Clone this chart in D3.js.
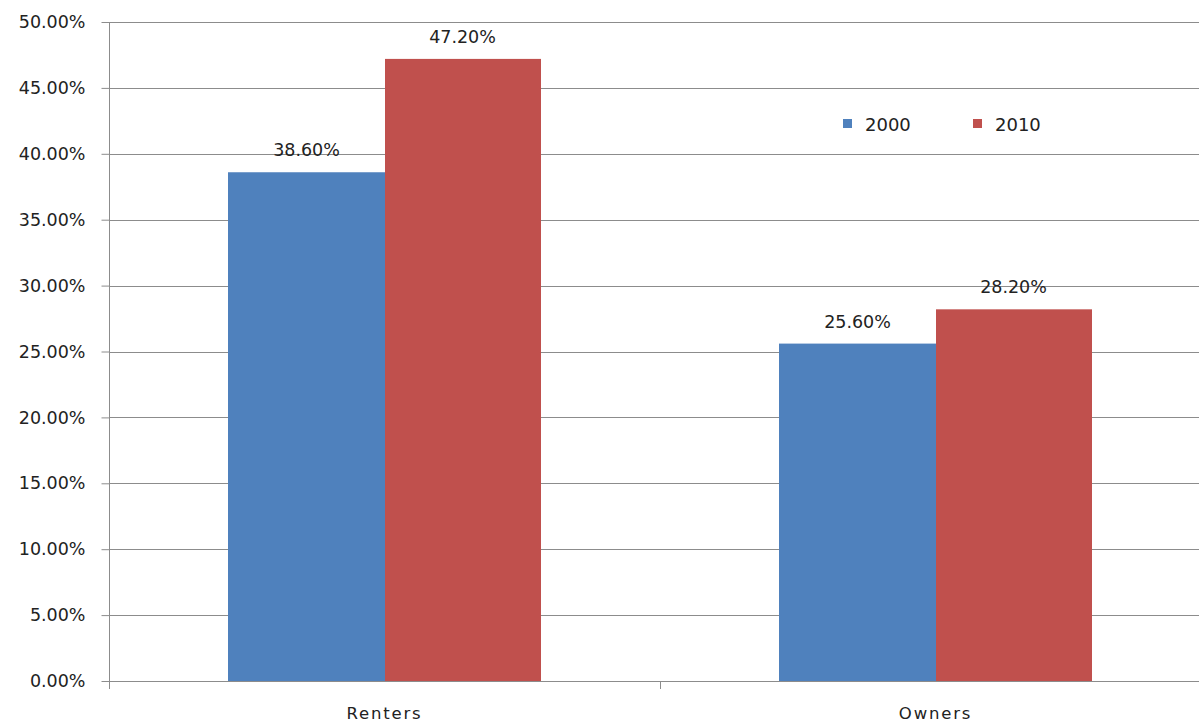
<!DOCTYPE html>
<html><head><meta charset="utf-8">
<script src="https://cdn.jsdelivr.net/npm/d3@7"></script>
<style>
html,body{margin:0;padding:0;background:#fff;}
svg{display:block;}
text{font-family:"DejaVu Sans",Verdana,sans-serif;fill:#222;}
</style></head>
<body>
<svg id="chart" width="1199" height="724"></svg>
<script>
const categories = ["Renters", "Owners"];
const seriesNames = ["2000", "2010"];
const values2000 = [38.6, 25.6];
const values2010 = [47.2, 28.2];
const yTicks = [0, 5, 10, 15, 20, 25, 30, 35, 40, 45, 50];
const colors = ["#4F81BD", "#C0504D"];

const svg = d3.select("#chart");
const plotLeft = 109, plotRight = 1211, plotTop = 22, plotBottom = 681;
const FONT = "DejaVu Sans, Verdana, sans-serif";

const x = d3.scaleBand().domain(categories).range([plotLeft, plotRight]).padding(0);
const inner = d3.scaleBand().domain(seriesNames).range([0, x.bandwidth()]).paddingInner(0).paddingOuter(0.766);
const y = d3.scaleLinear().domain([0, 50]).range([plotBottom, plotTop]);

// gridlines
svg.append("g").selectAll("line").data(yTicks.filter(d => d > 0)).join("line")
  .attr("x1", plotLeft).attr("x2", 1199)
  .attr("y1", d => Math.round(y(d)) + 0.5).attr("y2", d => Math.round(y(d)) + 0.5)
  .attr("stroke", "#8c8c8c").attr("stroke-width", 1.2);

// y axis
const yAxis = svg.append("g").attr("transform", `translate(${plotLeft + 0.5},0)`)
  .call(d3.axisLeft(y).tickValues(yTicks).tickSize(8).tickPadding(16).tickFormat(d => d.toFixed(2) + "%"));
yAxis.select(".domain").attr("stroke", "#8c8c8c").attr("d", `M0,${plotTop}V${plotBottom + 8}`);
yAxis.selectAll(".tick line").attr("stroke", "#8c8c8c");
yAxis.selectAll(".tick text").attr("font-size", 17.5).attr("fill", "#222").attr("font-family", FONT);

// bars
const series = [values2000, values2010];
seriesNames.forEach((s, si) => {
  svg.append("g").selectAll("rect").data(categories).join("rect")
    .attr("x", (c) => Math.round(x(c) + inner(s)))
    .attr("width", Math.round(inner.bandwidth()) + (si === 0 ? 1 : 0))
    .attr("y", (c, i) => y(series[si][i]))
    .attr("height", (c, i) => y(0) - y(series[si][i]))
    .attr("fill", colors[si]);
  svg.append("g").selectAll("text").data(categories).join("text")
    .attr("x", (c) => x(c) + inner(s) + inner.bandwidth() / 2)
    .attr("y", (c, i) => y(series[si][i]) - 16)
    .attr("text-anchor", "middle").attr("font-size", 17.5)
    .text((c, i) => series[si][i].toFixed(2) + "%");
});

// x axis
const xAxis = svg.append("g").attr("transform", `translate(0,${plotBottom + 0.5})`)
  .call(d3.axisBottom(x).tickSize(0).tickPadding(26));
xAxis.select(".domain").attr("stroke", "#8c8c8c").attr("d", `M${plotLeft},0H1199`);
xAxis.selectAll(".tick text").attr("font-size", 16.5).attr("fill", "#222").attr("letter-spacing", "1.8px")
  .attr("font-family", FONT);
// category separators
svg.append("g").selectAll("line").data(categories.slice(1)).join("line")
  .attr("x1", c => Math.round(x(c)) + 0.5).attr("x2", c => Math.round(x(c)) + 0.5)
  .attr("y1", plotBottom).attr("y2", plotBottom + 8)
  .attr("stroke", "#8c8c8c");

// legend
const legend = svg.append("g");
const legendX = [843, 973];
seriesNames.forEach((s, i) => {
  legend.append("rect").attr("x", legendX[i]).attr("y", 119).attr("width", 9).attr("height", 9).attr("fill", colors[i]);
  legend.append("text").attr("x", legendX[i] + 22).attr("y", 131).attr("font-size", 18).text(s);
});
</script>
</body></html>
